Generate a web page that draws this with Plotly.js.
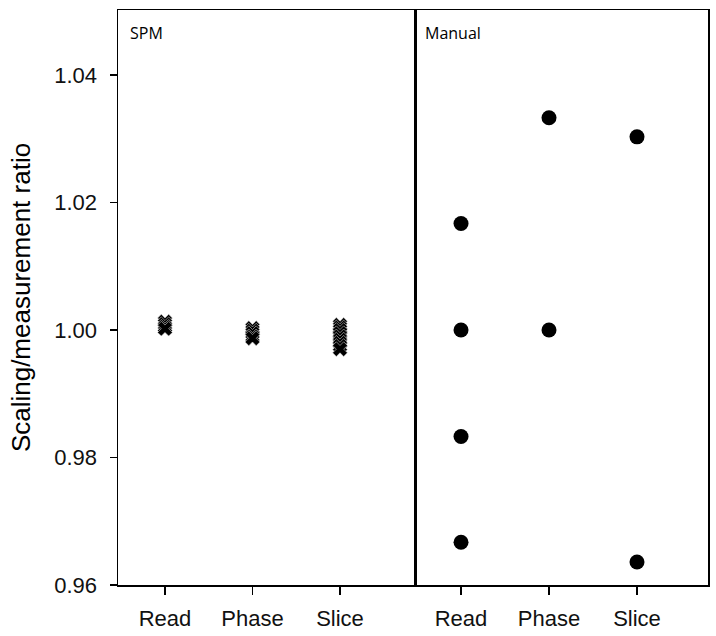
<!DOCTYPE html>
<html>
<head>
<meta charset="utf-8">
<script src="https://cdn.plot.ly/plotly-3.0.1.min.js"></script>
<style>
  html, body { margin: 0; padding: 0; background: #fff; }
  #chart { width: 716px; height: 636px; }
</style>
</head>
<body>
<div id="chart"></div>
<script>
// categories for both panels
const directions = ['Read', 'Phase', 'Slice'];

// SPM panel: ratios for each direction (stacked crosses)
const spmRead = [1.0013, 1.0009, 1.0005, 1.0002];
const spmPhase = [1.0003, 0.9999, 0.9995, 0.9990, 0.9987];
const spmSlice = [1.0008, 1.0004, 1.0000, 0.9995, 0.9990, 0.9985, 0.9980, 0.9975, 0.9970];

// Manual panel: ratios for each direction
const manRead = [1.0167, 1.0000, 0.9833, 0.9667];
const manPhase = [1.0333, 1.0000];
const manSlice = [1.0303, 0.9636];

const yTicks = [0.96, 0.98, 1.00, 1.02, 1.04];

function expand(groups) {
  const x = [], y = [];
  groups.forEach((vals, i) => {
    vals.forEach(v => { x.push(directions[i]); y.push(v); });
  });
  return { x, y };
}

const spm = expand([spmRead, spmPhase, spmSlice]);
const man = expand([manRead, manPhase, manSlice]);

const data = [
  {
    x: spm.x, y: spm.y,
    xaxis: 'x', yaxis: 'y',
    type: 'scatter', mode: 'markers',
    marker: { symbol: 'x', size: 13, color: '#000', line: { color: '#cfcfcf', width: 0.6 } },
    showlegend: false, hoverinfo: 'skip'
  },
  {
    x: man.x, y: man.y,
    xaxis: 'x2', yaxis: 'y2',
    type: 'scatter', mode: 'markers',
    marker: { symbol: 'circle', size: 15, color: '#000' },
    showlegend: false, hoverinfo: 'skip'
  }
];

const arial = 'Arial, Liberation Sans, sans-serif';
const axisFont = { family: arial, size: 22, color: '#111' };
const split = 0.5034;

const layout = {
  width: 716, height: 636,
  margin: { l: 118, r: 8, t: 10, b: 51 },
  paper_bgcolor: '#fff', plot_bgcolor: '#fff',
  xaxis: {
    domain: [0, split], type: 'category', categoryarray: directions,
    range: [-0.537, 2.857],
    showline: true, linecolor: '#000', linewidth: 1.5, mirror: true,
    ticks: 'outside', ticklen: 8, tickwidth: 1.5, tickcolor: '#000',
    ticklabelstandoff: 5,
    showgrid: false, zeroline: false, tickfont: axisFont
  },
  xaxis2: {
    domain: [split, 1], type: 'category', categoryarray: directions,
    range: [-0.523, 2.807], anchor: 'y2',
    showline: true, linecolor: '#000', linewidth: 1.5, mirror: true,
    ticks: 'outside', ticklen: 8, tickwidth: 1.5, tickcolor: '#000',
    ticklabelstandoff: 5,
    showgrid: false, zeroline: false, tickfont: axisFont
  },
  yaxis: {
    range: [0.96, 1.0502], tickvals: yTicks, tickformat: '.2f',
    showline: true, linecolor: '#000', linewidth: 1.5, mirror: true,
    ticks: 'outside', ticklen: 7, tickwidth: 1.5, tickcolor: '#000',
    ticklabelstandoff: 8,
    showgrid: false, zeroline: false,
    tickfont: { family: arial, size: 22, color: '#111' },
    title: { text: 'Scaling/measurement ratio', standoff: 16,
             font: { family: arial, size: 26, color: '#000' } }
  },
  yaxis2: {
    range: [0.96, 1.0502], anchor: 'x2', matches: 'y',
    showline: true, linecolor: '#000', linewidth: 1.5, mirror: true,
    showticklabels: false, ticks: '', showgrid: false, zeroline: false
  },
  annotations: [
    { text: 'SPM', xref: 'paper', yref: 'paper', x: 0.017, y: 0.982,
      xanchor: 'left', yanchor: 'top', showarrow: false,
      font: { family: 'Open Sans, Noto Sans, sans-serif', size: 16, color: '#000' } },
    { text: 'Manual', xref: 'paper', yref: 'paper', x: split + 0.014, y: 0.982,
      xanchor: 'left', yanchor: 'top', showarrow: false,
      font: { family: 'Open Sans, Noto Sans, sans-serif', size: 16, color: '#000' } }
  ]
};

Plotly.newPlot('chart', data, layout, { displayModeBar: false, staticPlot: true });
</script>
</body>
</html>
